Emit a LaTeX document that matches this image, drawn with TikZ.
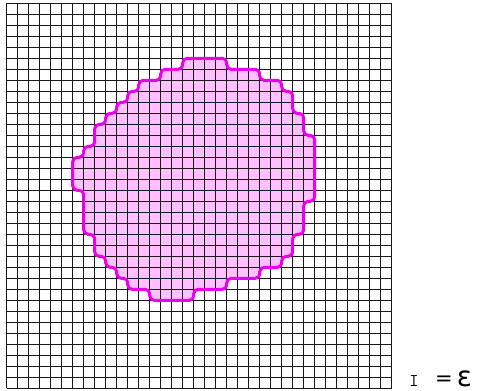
\documentclass[tikz,border=0pt]{standalone}
\usepackage{fontspec}
\usetikzlibrary{calc}
\newfontfamily\labelfont{DejaVu Sans}
\definecolor{blobpink}{RGB}{255,192,255}
\definecolor{blobmag}{RGB}{235,0,235}
\definecolor{gridink}{RGB}{25,25,25}

% staircase outline of the blob, in grid cells (origin = bottom-left of grid)
\newcommand\blobpath{(18,30) -- (20,30) -- (20,29) -- (23,29) -- (23,28) -- (25,28)
  -- (25,27) -- (26,27) -- (26,25) -- (27,25) -- (27,23) -- (28,23) -- (28,17)
  -- (27,17) -- (27,14) -- (26,14) -- (26,12) -- (25,12) -- (25,11) -- (23,11)
  -- (23,10) -- (20,10) -- (20,9) -- (17,9) -- (17,8) -- (13,8) -- (13,9)
  -- (11,9) -- (11,10) -- (10,10) -- (10,11) -- (9,11) -- (9,12) -- (8,12)
  -- (8,14) -- (7,14) -- (7,18) -- (6,18) -- (6,21) -- (7,21) -- (7,22)
  -- (8,22) -- (8,24) -- (9,24) -- (9,25) -- (10,25) -- (10,26) -- (11,26)
  -- (11,27) -- (12,27) -- (12,28) -- (14,28) -- (14,29) -- (16,29) -- (16,30) -- cycle}

\begin{document}
\begin{tikzpicture}[x=11pt, y=11pt, line join=round]
  \useasboundingbox (-0.609,-0.155) rectangle (42.75,35.3);

  % --- blob fill (under the mesh) ---
  \fill[blobpink, rounded corners=4.5pt] \blobpath;

  % --- 35 x 35 mesh ---
  \foreach \k in {0,...,35} {
    \draw[gridink, line width=1.05pt] (\k,0) -- (\k,35);
    \draw[gridink, line width=1.05pt] (0,\k) -- (35,\k);
  }

  % --- blob outline ---
  \draw[blobmag, line width=3pt, rounded corners=4.5pt] \blobpath;

  % --- label at the lower right ---
  \node[inner sep=0pt, anchor=base] (lbl-i) at (37.03,0.2) {\fontsize{18}{18}\selectfont\ttfamily I};
  \node[inner sep=0pt, anchor=base] (lbl-eq) at (39.75,0.22) {\fontsize{21}{21}\labelfont =};
  \node[inner sep=0pt, anchor=base] (lbl-eps) at (41.6,0.2) {\fontsize{28}{28}\labelfont ε};
\end{tikzpicture}
\end{document}
